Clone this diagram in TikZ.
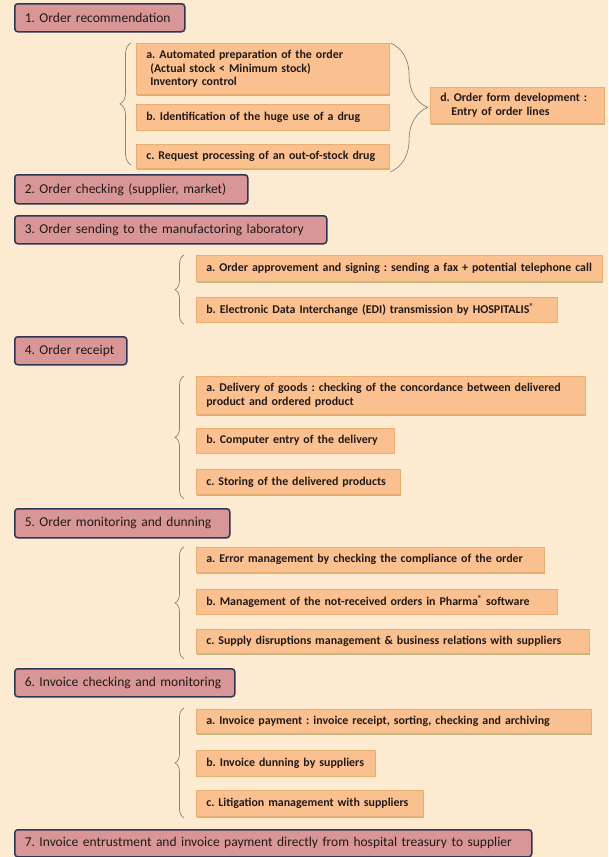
\documentclass[tikz,border=0pt]{standalone}
\usepackage{fontspec}
\setmainfont{Carlito}
\usetikzlibrary{positioning,decorations.pathreplacing,shadows}

\definecolor{bgcol}{RGB}{253,235,209}
\definecolor{stepfill}{RGB}{217,150,150}
\definecolor{stepline}{RGB}{45,55,85}
\definecolor{taskfill}{RGB}{250,192,143}
\definecolor{taskline}{RGB}{232,175,115}
\definecolor{shadowcol}{RGB}{196,182,128}
\definecolor{bracecol}{RGB}{140,128,112}
\definecolor{textcol}{RGB}{35,25,25}

\newcommand{\regmark}{\raisebox{3.5pt}{\fontsize{8.5}{8.5}\selectfont ®}}
\frenchspacing

\begin{document}
\begin{tikzpicture}[x=1pt,y=-1pt,
    stepbox/.style={draw=stepline, line width=1.5pt, rounded corners=3pt, fill=stepfill, anchor=north west, text width=#1, inner xsep=10pt, inner ysep=0pt, minimum height=28pt, font=\fontsize{13.5}{16}\selectfont, text=textcol, execute at begin node=\hbox\bgroup, execute at end node=\egroup},
    task/.style={draw=taskline, line width=.6pt, fill=taskfill, drop shadow={shadow xshift=1pt, shadow yshift=-1.5pt, fill=shadowcol, opacity=1}, anchor=north west, align=left, text width=#1, inner xsep=10pt, inner ysep=1pt, minimum height=25pt, font=\bfseries\fontsize{11.9}{13.5}\selectfont, text=textcol},
    brc/.style={draw=bracecol, line width=.7pt, decorate, decoration={brace, amplitude=#1}}]
    \fill [bgcol] (0,0) rectangle (608,857);
    \useasboundingbox (0,0) rectangle (608,857);

    % main steps
    \node [stepbox=150] (s1) at (14,3)   {1. Order recommendation};
    \node [stepbox=213, minimum height=29pt] (s2) at (14,174) {2. Order checking (supplier, market)};
    \node [stepbox=292] (s3) at (14,215) {3. Order sending to the manufactoring laboratory};
    \node [stepbox=92]  (s4) at (14,336) {4. Order receipt};
    \node [stepbox=195, minimum height=29pt] (s5) at (14,508) {5. Order monitoring and dunning};
    \node [stepbox=200] (s6) at (14,668) {6. Invoice checking and monitoring};
    \node [stepbox=497, minimum height=27pt] (s7) at (14,829) {7. Invoice entrustment and invoice payment directly from hospital treasury to supplier};

    % step 1
    \node [task=233, minimum height=51pt] (g1a) at (136,43) {a. Automated preparation of the order\\\hspace*{4pt}(Actual stock < Minimum stock)\\\hspace*{4pt}Inventory control};
    \node [task=233, minimum height=26pt, below=9pt of g1a.south west, anchor=north west] (g1b) {b. Identification of the huge use of a drug};
    \node [task=233, minimum height=24pt, below=14pt of g1b.south west, anchor=north west] (g1c) {c. Request processing of an out-of-stock drug};
    \node [task=154, minimum height=36pt] (g1d) at (430,87) {d. Order form development :\\\hspace*{11pt}Entry of order lines};
    \draw [brc=11pt] ([xshift=-5pt,yshift=4pt]g1c.south west) -- ([xshift=-5pt]g1a.north west);
    \draw [brc=37pt] ([xshift=1pt]g1a.north east) -- ([xshift=1pt,yshift=-3pt]g1c.south east);

    % step 3
    \node [task=386, minimum height=26pt] (g3a) at (196,255) {a. Order approvement and signing : sending a fax + potential telephone call};
    \node [task=341, below=15pt of g3a.south west, anchor=north west] (g3b) {b. Electronic Data Interchange (EDI) transmission by HOSPITALIS\regmark};
    \draw [brc=9pt] ([xshift=-12pt,yshift=-2pt]g3b.south west) -- ([xshift=-12pt]g3a.north west);

    % step 4
    \node [task=369, minimum height=38pt] (g4a) at (196,376) {a. Delivery of goods : checking of the concordance between delivered\\product and ordered product};
    \node [task=178, below=13pt of g4a.south west, anchor=north west] (g4b) {b. Computer entry of the delivery};
    \node [task=184, below=16pt of g4b.south west, anchor=north west] (g4c) {c. Storing of the delivered products};
    \draw [brc=9pt] ([xshift=-12pt,yshift=-4pt]g4c.south west) -- ([xshift=-12pt]g4a.north west);

    % step 5
    \node [task=328] (g5a) at (196,547) {a. Error management by checking the compliance of the order};
    \node [task=341, below=16pt of g5a.south west, anchor=north west] (g5b) {b. Management of the not-received orders in Pharma\regmark{} software};
    \node [task=373, minimum height=24pt, below=15pt of g5b.south west, anchor=north west] (g5c) {c. Supply disruptions management \& business relations with suppliers};
    \draw [brc=9pt] ([xshift=-12pt,yshift=-5pt]g5c.south west) -- ([xshift=-12pt]g5a.north west);

    % step 6
    \node [task=375, minimum height=24pt] (g6a) at (196,709) {a. Invoice payment : invoice receipt, sorting, checking and archiving};
    \node [task=159, minimum height=26pt, below=16pt of g6a.south west, anchor=north west] (g6b) {b. Invoice dunning by suppliers};
    \node [task=207, minimum height=26pt, below=14pt of g6b.south west, anchor=north west] (g6c) {c. Litigation management with suppliers};
    \draw [brc=9pt] ([xshift=-12pt,yshift=-1pt]g6c.south west) -- ([xshift=-12pt,yshift=1pt]g6a.north west);
\end{tikzpicture}
\end{document}
